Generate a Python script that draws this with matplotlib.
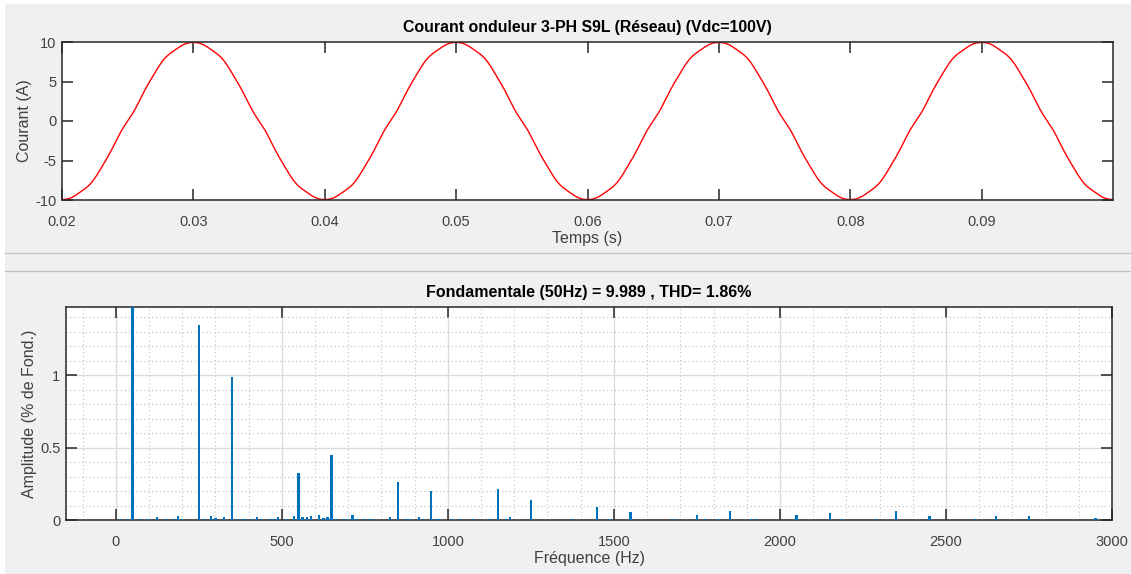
import numpy as np
import matplotlib
matplotlib.use('Agg')
from matplotlib import pyplot as plt
from matplotlib.ticker import MultipleLocator
from matplotlib.lines import Line2D
from matplotlib.patches import Rectangle

plt.rcParams['font.family'] = ['Liberation Sans', 'DejaVu Sans']
plt.rcParams['axes.unicode_minus'] = False

# Spectrum (% of fundamental)
fund_freq = 50
fund_amp = 9.989
harm_freq = [250, 350, 550, 650, 850, 950, 1150, 1250, 1450, 1550, 1750, 1850,
             2050, 2150, 2350, 2450, 2650, 2750, 2950]
harm_amp = [1.345, 0.984, 0.324, 0.448, 0.262, 0.200, 0.216, 0.138, 0.092, 0.055,
            0.037, 0.064, 0.036, 0.046, 0.064, 0.028, 0.028, 0.028, 0.012]

small_freq = [12.5, 37.5, 75, 100, 125, 150, 175, 187.5, 200, 262.5, 287.5, 300, 325,
              362.5, 375, 387.5, 412.5, 425, 437.5, 462.5, 475, 487.5, 512.5, 537.5,
              562.5, 575, 587.5, 612.5, 625, 637.5, 662.5, 687.5, 700, 712.5, 725,
              750, 762.5, 775, 825, 875, 887.5, 912.5, 925, 962.5, 975, 1012.5,
              1037.5, 1075, 1125, 1175, 1187.5, 1375, 1487.5, 1675, 1687.5, 1775,
              1812.5, 1912.5, 1925, 2187.5, 2287.5, 2587.5]
small_amp = [0.01, 0.01, 0.01, 0.01, 0.02, 0.01, 0.01, 0.03, 0.01, 0.01, 0.03, 0.015, 0.02,
             0.01, 0.01, 0.01, 0.01, 0.02, 0.01, 0.01, 0.01, 0.02, 0.01, 0.03,
             0.02, 0.02, 0.03, 0.037, 0.015, 0.02, 0.01, 0.01, 0.01, 0.034, 0.01,
             0.01, 0.01, 0.01, 0.02, 0.01, 0.01, 0.02, 0.01, 0.01, 0.01, 0.01,
             0.01, 0.01, 0.01, 0.01, 0.02, 0.01, 0.01, 0.01, 0.01, 0.01,
             0.01, 0.01, 0.01, 0.01, 0.01, 0.01]

# time waveform rebuilt from the low-order harmonics (5, 7, 11, 13), in anti-phase
n_wave = 4
t = np.linspace(0.02, 0.1, 4001)
theta = 2 * np.pi * fund_freq * (t - 0.025)
courant = np.sin(theta)
for f, a in zip(harm_freq[:n_wave], harm_amp[:n_wave]):
    courant -= a / 100 * np.sin(f / fund_freq * theta)
courant *= fund_amp

bg = '#f0f0f0'
txt = '#404040'
edge = '#262626'

fig = plt.figure(figsize=(11.31, 5.74), dpi=100, facecolor='white')
fig.patches.append(Rectangle((5 / 1131, 0), 1, 1 - 4 / 574, transform=fig.transFigure,
                             facecolor=bg, edgecolor='none', zorder=-10))
for yy in [253, 271]:
    fig.lines.append(Line2D([5 / 1131, 1], [1 - yy / 574] * 2, transform=fig.transFigure,
                            color='#c4c4c4', lw=1))

# top: current waveform
ax1 = fig.add_axes([62 / 1131, 1 - 200 / 574, 1051 / 1131, 158 / 574])
ax1.plot(t, courant, color='red', lw=1)
ax1.set_xlim(0.02, 0.1)
ax1.set_ylim(-10, 10)
ax1.set_xticks([0.02, 0.03, 0.04, 0.05, 0.06, 0.07, 0.08, 0.09])
ax1.set_xticklabels(['0.02', '0.03', '0.04', '0.05', '0.06', '0.07', '0.08', '0.09'])
ax1.set_yticks([-10, -5, 0, 5, 10])
ax1.set_title('Courant onduleur 3-PH S9L (Réseau) (Vdc=100V)', fontsize=11.4,
              fontweight='bold', color='black', pad=7)
ax1.set_xlabel('Temps (s)', fontsize=11.5, color=txt, labelpad=1)
ax1.set_ylabel('Courant (A)', fontsize=11.5, color=txt, labelpad=2)

# bottom: spectrum
ax2 = fig.add_axes([66 / 1131, 1 - 520 / 574, 1046 / 1131, 213 / 574])
ax2.bar([fund_freq] + harm_freq + small_freq, [100] + harm_amp + small_amp,
        width=7, color='#0072BD', zorder=3)
ax2.set_xlim(-150, 3000)
ax2.set_ylim(0, 1.47)
ax2.set_xticks(range(0, 3001, 500))
ax2.set_yticks([0, 0.5, 1])
ax2.set_yticklabels(['0', '0.5', '1'])
ax2.xaxis.set_minor_locator(MultipleLocator(100))
ax2.yaxis.set_minor_locator(MultipleLocator(0.1))
ax2.grid(which='major', color='#dcdcdc', lw=1, zorder=0)
ax2.grid(which='minor', color='#c0c0c0', lw=0.8, ls=(0, (1, 2.5)), zorder=0)
ax2.set_axisbelow(True)
ax2.set_title('Fondamentale (50Hz) = 9.989 , THD= 1.86%', fontsize=11.5,
              fontweight='bold', color='black', pad=7)
ax2.set_xlabel('Fréquence (Hz)', fontsize=11.5, color=txt, labelpad=1)
ax2.set_ylabel('Amplitude (% de Fond.)', fontsize=11.5, color=txt, labelpad=2)

for ax in (ax1, ax2):
    ax.set_facecolor('white')
    for sp in ax.spines.values():
        sp.set_color(edge)
        sp.set_linewidth(1.1)
    ax.tick_params(which='major', direction='in', length=8, width=1.1, color=edge,
                   top=True, right=True, labelsize=10.5, labelcolor=txt)
    ax.tick_params(axis='x', which='major', pad=11)
    ax.tick_params(axis='y', which='major', pad=4)
    ax.tick_params(which='minor', length=0, top=True, right=True)

fig.savefig('out.png', dpi=100, facecolor=fig.get_facecolor())
